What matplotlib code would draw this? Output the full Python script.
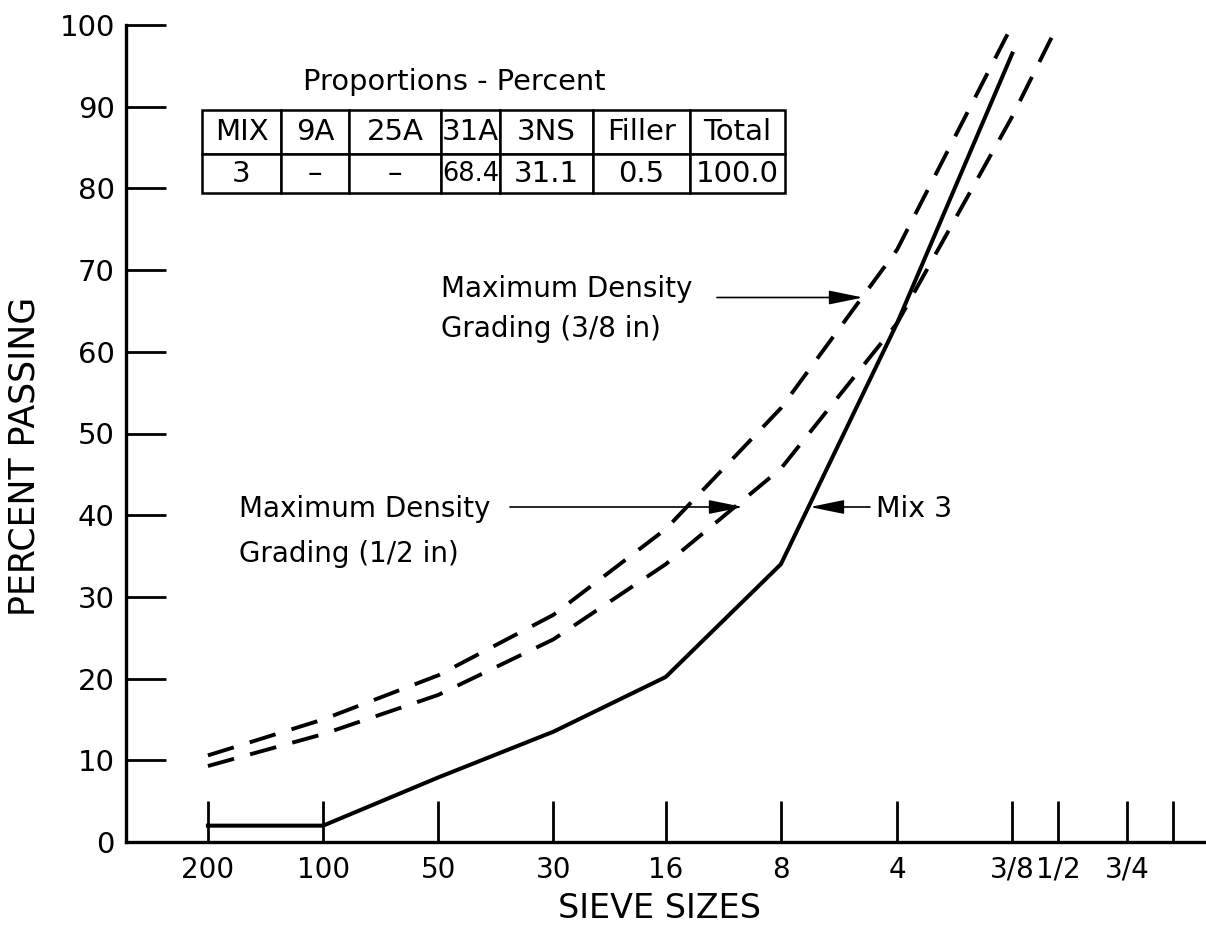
import matplotlib
matplotlib.use('Agg')
import matplotlib.pyplot as plt
from matplotlib.ticker import FixedLocator, NullLocator, FixedFormatter

plt.rcParams['font.family'] = ['DejaVu Sans']
plt.rcParams['lines.scale_dashes'] = False

# ---------------- data ----------------
sieve_mm = [0.075, 0.15, 0.3, 0.6, 1.18, 2.36, 4.75, 9.5, 12.5, 19.0, 25.0]
sieve_labels = ['200', '100', '50', '30', '16', '8', '4', '3/8', '1/2', '3/4', '']

mix3 = [2.0, 2.0, 7.9, 13.5, 20.2, 34.0, 63.5, 96.5]
max_density_38 = [10.6, 15.0, 20.4, 27.8, 38.3, 53.1, 72.5, 100.0]
max_density_12 = [9.3, 13.2, 18.0, 24.8, 34.0, 45.7, 63.5, 88.8, 100.0]

y_ticks = [0, 10, 20, 30, 40, 50, 60, 70, 80, 90, 100]

table_header = ['MIX', '9A', '25A', '31A', '3NS', 'Filler', 'Total']
table_row = ['3', '–', '–', '68.4', '31.1', '0.5', '100.0']

# ---------------- figure ----------------
W, H = 1206, 926
fig = plt.figure(figsize=(W / 100, H / 100), dpi=100)
AX_L, AX_B, AX_R, AX_T = 126, 842, 1206, 25
ax = fig.add_axes([AX_L / W, (H - AX_B) / H, (AX_R - AX_L) / W, (AX_B - AX_T) / H])


def axf(px, py):
    return ((px - AX_L) / (AX_R - AX_L), (AX_B - py) / (AX_B - AX_T))


ax.set_xscale('log')
ax.set_xlim(0.0458, 30.5)
ax.set_ylim(0, 100)

ax.plot(sieve_mm[:len(mix3)], mix3, color='black', lw=2.9, clip_on=False)
ax.plot(sieve_mm[:len(max_density_38)], max_density_38, color='black', lw=2.8,
        linestyle=(0, (19.5, 12)), dash_capstyle='butt', clip_on=False)
ax.plot(sieve_mm[:len(max_density_12)], max_density_12, color='black', lw=2.8,
        linestyle=(0, (19.5, 12)), dash_capstyle='butt', clip_on=False)

# axes styling
for s in ['top', 'right']:
    ax.spines[s].set_visible(False)
for s in ['left', 'bottom']:
    ax.spines[s].set_linewidth(2.4)

ax.xaxis.set_major_locator(FixedLocator(sieve_mm))
ax.xaxis.set_major_formatter(FixedFormatter(sieve_labels))
ax.xaxis.set_minor_locator(NullLocator())
ax.set_yticks(y_ticks)
ax.set_yticklabels([str(v) for v in y_ticks])
ax.tick_params(axis='x', direction='in', length=29.5, width=2.0, pad=10, labelsize=20)
ax.tick_params(axis='y', direction='in', length=29, width=2.0, pad=8, labelsize=21)

ax.set_xlabel('SIEVE SIZES', fontsize=24, va='center')
ax.xaxis.set_label_coords(*axf(659, 908))
ax.set_ylabel('PERCENT PASSING', fontsize=25, va='center')
ax.yaxis.set_label_coords(*axf(25, 456))

# ---------------- annotations ----------------
fs = 20
def txt(px, py, s, size=fs, **kw):
    ax.text(*axf(px, py), s, transform=ax.transAxes, fontsize=size,
            ha='left', va='baseline', **kw)

txt(441, 297, 'Maximum Density')
txt(441, 337, 'Grading (3/8 in)')
txt(239, 517, 'Maximum Density')
txt(239, 562, 'Grading (1/2 in)')
txt(876, 517, 'Mix 3', size=20.5)
txt(303, 90, 'Proportions - Percent', size=20.8)

arrow = dict(arrowstyle='-|>,head_length=21,head_width=4.3', color='black',
             lw=1.2, shrinkA=0, shrinkB=0, mutation_scale=1)
ax.annotate('', xy=axf(863, 297.5), xytext=axf(717, 297.5),
            xycoords='axes fraction', textcoords='axes fraction', arrowprops=arrow)
ax.annotate('', xy=axf(743, 507), xytext=axf(510, 507),
            xycoords='axes fraction', textcoords='axes fraction', arrowprops=arrow)
ax.annotate('', xy=axf(810, 507), xytext=axf(870, 507),
            xycoords='axes fraction', textcoords='axes fraction', arrowprops=arrow)

# ---------------- table ----------------
col_px = [79, 68, 92, 59, 93, 97, 95]
tot = sum(col_px)
x0, y1 = axf(202, 110)
x1, y0 = axf(785, 193)
tbl = ax.table(cellText=[table_header, table_row],
               colWidths=[c / tot for c in col_px],
               cellLoc='center', bbox=[x0, y0, x1 - x0, y1 - y0])
tbl.auto_set_font_size(False)
tbl.set_fontsize(21)
for (r, c), cell in tbl.get_celld().items():
    cell.set_linewidth(1.8)
    cell.set_edgecolor('black')
    cell.set_height(45 if r == 0 else 39)
    cell.PAD = 0.02
    if r == 1 and c == 3:
        cell.get_text().set_fontsize(18.5)

fig.savefig('out.png', dpi=100)
